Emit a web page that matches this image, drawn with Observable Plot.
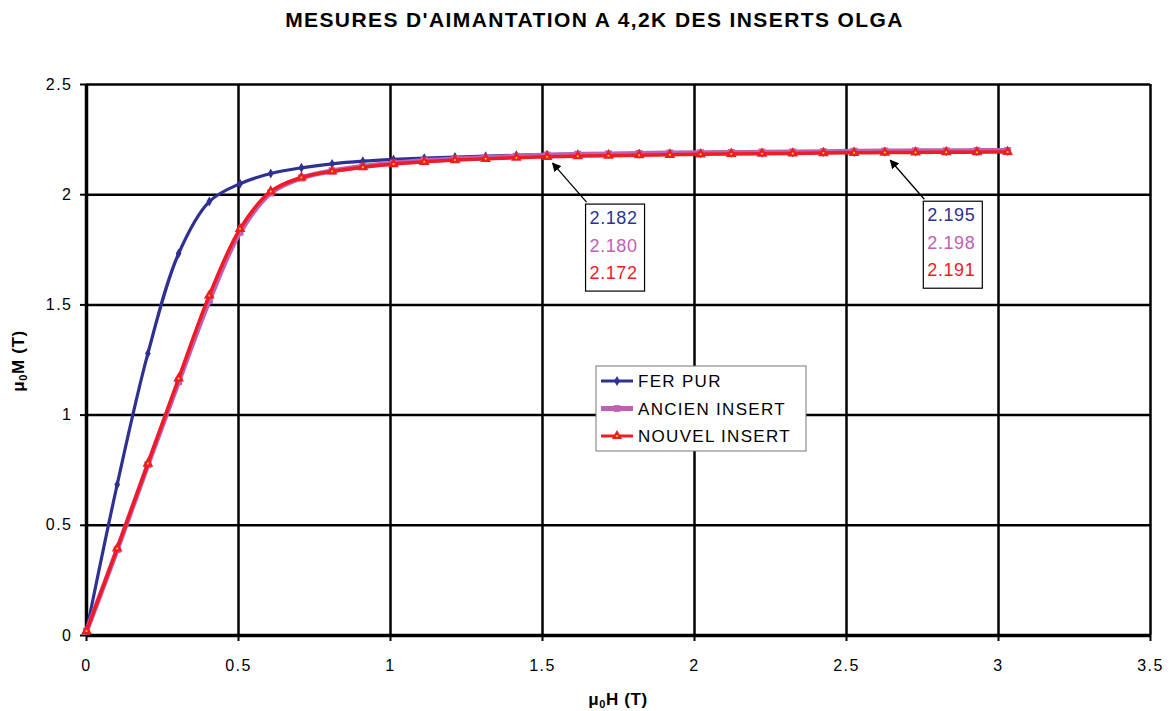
<!DOCTYPE html>
<html><head><meta charset="utf-8">
<script src="https://cdn.jsdelivr.net/npm/d3@7"></script>
<script src="https://cdn.jsdelivr.net/npm/@observablehq/plot@0.6"></script>
<style>
body{margin:0;background:#fff;font-family:"Liberation Sans",Arial,sans-serif;}
#title{height:40px;line-height:40px;text-align:center;font-weight:bold;font-size:21px;letter-spacing:1.4px;width:1149px;padding-left:20px;color:#000;}
#chart svg{display:block;}
</style></head><body>
<div id="title">MESURES D'AIMANTATION A 4,2K DES INSERTS OLGA</div>
<div id="chart"></div>
<script>
const fieldH = [0, 0.101, 0.202, 0.303, 0.404, 0.505, 0.606, 0.707, 0.808, 0.909, 1.01, 1.111, 1.212, 1.313, 1.414, 1.515, 1.616, 1.717, 1.818, 1.919, 2.02, 2.121, 2.222, 2.323, 2.424, 2.525, 2.626, 2.727, 2.828, 2.929, 3.03];
const ferPur = [0.02, 0.685, 1.28, 1.733, 1.969, 2.05, 2.096, 2.122, 2.14, 2.152, 2.16, 2.166, 2.171, 2.175, 2.179, 2.182, 2.184, 2.185, 2.186, 2.187, 2.188, 2.189, 2.190, 2.191, 2.193, 2.194, 2.195, 2.196, 2.197, 2.197, 2.198];
const ancienInsert = [0.02, 0.39, 0.775, 1.152, 1.52, 1.83, 2.008, 2.076, 2.108, 2.128, 2.143, 2.154, 2.162, 2.168, 2.174, 2.180, 2.183, 2.185, 2.187, 2.189, 2.190, 2.191, 2.193, 2.194, 2.195, 2.197, 2.198, 2.199, 2.199, 2.200, 2.200];
const nouvelInsert = [0.02, 0.395, 0.78, 1.166, 1.543, 1.845, 2.015, 2.078, 2.106, 2.125, 2.139, 2.149, 2.157, 2.163, 2.168, 2.172, 2.175, 2.177, 2.179, 2.181, 2.183, 2.185, 2.186, 2.187, 2.189, 2.190, 2.191, 2.192, 2.193, 2.193, 2.194];
const seriesNames = ["FER PUR", "ANCIEN INSERT", "NOUVEL INSERT"];
const xTicks = [0, 0.5, 1, 1.5, 2, 2.5, 3, 3.5];
const yTicks = [0, 0.5, 1, 1.5, 2, 2.5];
const annotationH = [1.515, 2.626];
const annotationValues = [["2.182", "2.180", "2.172"], ["2.195", "2.198", "2.191"]];

const colors = ["#2E3192", "#C060B4", "#EE1C25"];
const rows = fieldH.map((h, i) => ({h, fer: ferPur[i], ancien: ancienInsert[i], nouvel: nouvelInsert[i]}));
const curve = "catmull-rom";
const FONT = "'Liberation Sans', Arial, sans-serif";

const plot = Plot.plot({
  width: 1169, height: 671,
  marginTop: 44, marginLeft: 86, marginRight: 19, marginBottom: 76,
  style: {fontFamily: FONT, fontSize: "16px", color: "#000", background: "#fff", letterSpacing: "1.5px"},
  x: {domain: [0, 3.5], label: null},
  y: {domain: [0, 2.5], label: null},
  marks: [
    Plot.gridX(xTicks.filter(d => d > 0), {stroke: "#000", strokeOpacity: 1, strokeWidth: 2.5}),
    Plot.gridY(yTicks.filter(d => d > 0), {stroke: "#000", strokeOpacity: 1, strokeWidth: 2.5}),
    Plot.axisX(xTicks, {tickSize: 6, tickPadding: 18, fontSize: 16, strokeWidth: 2, tickFormat: d => String(d)}),
    Plot.axisY(yTicks, {tickSize: 6, tickPadding: 8, fontSize: 16, strokeWidth: 2, tickFormat: d => String(d)}),
    Plot.ruleX([0], {stroke: "#000", strokeWidth: 3.5}),
    Plot.ruleY([0], {stroke: "#000", strokeWidth: 3.5}),
    Plot.line(rows, {x: "h", y: "fer", stroke: colors[0], strokeWidth: 3.2, curve}),
    Plot.dot(rows, {x: "h", y: "fer", symbol: "diamond", r: 3, fill: colors[0]}),
    Plot.line(rows, {x: "h", y: "ancien", stroke: colors[1], strokeWidth: 5, curve}),
    Plot.dot(rows, {x: "h", y: "ancien", symbol: "square", r: 4, fill: colors[1]}),
    Plot.line(rows, {x: "h", y: "nouvel", stroke: colors[2], strokeWidth: 3.5, curve}),
    Plot.dot(rows, {x: "h", y: "nouvel", symbol: "triangle", r: 4, fill: colors[2]}),
    Plot.dot(rows, {x: "h", y: "nouvel", r: 1, fill: "#FFE000"})
  ]
});
document.getElementById("chart").appendChild(plot);

const svg = d3.select(plot);
const sx = plot.scale("x"), sy = plot.scale("y");

// axis titles with subscript 0
function subLabel(g, main, rest) {
  g.append("tspan").text(main);
  g.append("tspan").attr("font-size", 11).attr("dy", 3).text("0");
  g.append("tspan").attr("dy", -3).text(rest);
}
const xl = svg.append("text").attr("x", 618).attr("y", 665)
  .attr("text-anchor", "middle").attr("font-family", FONT).attr("font-weight", "bold").attr("font-size", 17).attr("letter-spacing", "0.6px");
subLabel(xl, "μ", "H (T)");
const yl = svg.append("text").attr("transform", "translate(24,321) rotate(-90)")
  .attr("text-anchor", "middle").attr("font-family", FONT).attr("font-weight", "bold").attr("font-size", 17).attr("letter-spacing", "0.6px");
subLabel(yl, "μ", "M (T)");

// annotations
svg.append("defs").append("marker").attr("id", "ah").attr("viewBox", "0 0 10 10")
  .attr("refX", 9).attr("refY", 5).attr("markerWidth", 9).attr("markerHeight", 9)
  .attr("markerUnits", "userSpaceOnUse").attr("orient", "auto")
  .append("path").attr("d", "M0,0L10,5L0,10z").attr("fill", "#000");
annotationH.forEach((h, k) => {
  const i = fieldH.indexOf(h);
  const px = sx.apply(h), py = sy.apply(ferPur[i]);
  const bx = px + 39, by = py + 50;
  svg.append("line").attr("x1", bx + 1).attr("y1", by - 2).attr("x2", px + 6).attr("y2", py + 9)
    .attr("stroke", "#000").attr("stroke-width", 1.3).attr("marker-end", "url(#ah)");
  svg.append("rect").attr("x", bx).attr("y", by).attr("width", 59).attr("height", 87)
    .attr("fill", "#fff").attr("stroke", "#000").attr("stroke-width", 1.2);
  annotationValues[k].forEach((v, j) => {
    svg.append("text").attr("x", bx + 4).attr("y", by + 20 + j * 27.5).attr("font-family", FONT)
      .attr("text-anchor", "start").attr("letter-spacing", "0.6px")
      .attr("font-size", 18).attr("fill", colors[j]).text(v);
  });
});

// legend
const lg = svg.append("g").attr("transform", "translate(596,326)");
lg.append("rect").attr("width", 210).attr("height", 85).attr("fill", "#fff").attr("stroke", "#777").attr("stroke-width", 1);
const syms = [d3.symbolDiamond, d3.symbolSquare, d3.symbolTriangle];
const sizes = [30, 45, 45];
const widths = [3, 5, 3];
seriesNames.forEach((name, j) => {
  const y = 15 + j * 27.5;
  lg.append("line").attr("x1", 5).attr("x2", 37).attr("y1", y).attr("y2", y).attr("stroke", colors[j]).attr("stroke-width", widths[j]);
  lg.append("path").attr("d", d3.symbol(syms[j], sizes[j])()).attr("transform", `translate(21,${y})`).attr("fill", colors[j]);
  if (j === 2) lg.append("circle").attr("cx", 21).attr("cy", y).attr("r", 1).attr("fill", "#FFE000");
  lg.append("text").attr("x", 42).attr("y", y + 6).attr("font-family", FONT).attr("text-anchor", "start")
    .attr("letter-spacing", "1.3px").attr("font-size", 17).attr("fill", "#000").text(name);
});
</script>
</body></html>
